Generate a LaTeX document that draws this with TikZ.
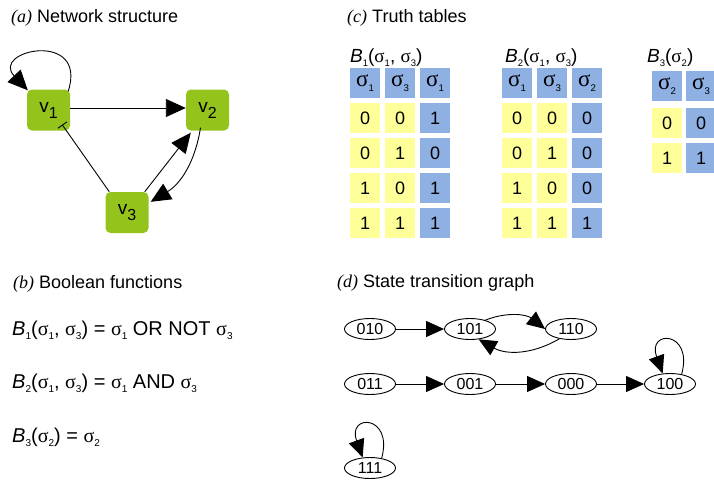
\documentclass[tikz,border=0pt]{standalone}
\usepackage{fontspec}
\usepackage{graphicx}
\setmainfont{Liberation Sans}
\newfontfamily\serifgr{Liberation Serif}
\usetikzlibrary{arrows.meta,shapes.geometric}
\definecolor{boxgreen}{RGB}{148,196,28}
\definecolor{cellblue}{RGB}{142,176,226}
\definecolor{cellyellow}{RGB}{255,255,153}
\newcommand\lowsub[2]{\raisebox{-0.22em}{\scalebox{#1}{#2}}}
\newcommand\sig[1]{{\serifgr σ}\lowsub{0.5}{#1}}
\newcommand\hsig[1]{{\serifgr σ}\lowsub{0.42}{#1}}
\newcommand\panel[1]{{\serifgr\itshape (#1)}}
\begin{document}
\begin{tikzpicture}[x=1pt,y=-1pt,
  title/.style={anchor=base west, inner sep=0pt, font=\fontsize{18}{20}\selectfont},
  eqn/.style={anchor=base west, inner sep=0pt, font=\fontsize{20}{22}\selectfont},
  tlabel/.style={anchor=base west, inner sep=0pt, font=\fontsize{19}{21}\selectfont},
  vbox/.style={fill=boxgreen, rounded corners=5pt, minimum width=43pt, minimum height=41pt, inner sep=0pt, font=\fontsize{19}{19}\selectfont},
  arr/.style={-{Triangle[length=20pt,width=18pt]}, line width=0.9pt},
  darr/.style={-{Triangle[length=18pt,width=16pt]}, line width=0.9pt},
  inh/.style={-{Bar[width=11pt,line width=0.9pt]}, line width=0.9pt},
  cellbase/.style={minimum width=30pt, minimum height=30pt, inner sep=0pt, font=\fontsize{18}{18}\selectfont},
  ycell/.style={cellbase, fill=cellyellow},
  bcell/.style={cellbase, fill=cellblue},
  hcell/.style={cellbase, fill=cellblue, font=\fontsize{23}{23}\selectfont},
  state/.style={ellipse, draw, line width=0.9pt, minimum width=51pt, minimum height=21pt, inner sep=0pt, font=\fontsize{16}{16}\selectfont}
]
\useasboundingbox (0,0) rectangle (714,479);
\clip (0,0) rectangle (714,479);

% ---------- (a) Network structure
\node[title] (ta) at (11,22) {\panel{a} Network structure};
\node[vbox] (v1) at (48.5,110) {v\raisebox{-6pt}{\fontsize{16}{16}\selectfont 1}};
\node[vbox] (v2) at (207.5,110) {v\raisebox{-6pt}{\fontsize{16}{16}\selectfont 2}};
\node[vbox] (v3) at (127,212.5) {v\raisebox{-6pt}{\fontsize{16}{16}\selectfont 3}};
\draw[arr] ([xshift=-2pt,yshift=-2pt]v1.north east) .. controls +(20,-62) and +(-38,-40) .. ([xshift=1pt,yshift=-1pt]v1.north west);
\draw[arr] ([yshift=2pt]v1.east) -- ([yshift=2pt]v2.west);
\draw[inh] ([xshift=4pt]v3.north west) -- ([xshift=-8pt,yshift=6pt]v1.south east);
\draw[arr] ([xshift=-4pt]v3.north east) -- ([xshift=5pt,yshift=-2pt]v2.south west);
\draw[arr] ([xshift=-7pt,yshift=3pt]v2.south) to[bend left=25] ([xshift=2pt,yshift=-10pt]v3.north east);

% ---------- (c) Truth tables
\node[title] (tc) at (347,22) {\panel{c} Truth tables};
\node[tlabel] (lb1) at (350,62) {\textit{B}\lowsub{0.5}{1}(\sig1, \sig3)};
\node[tlabel] (lb2) at (505,62) {\textit{B}\lowsub{0.5}{2}(\sig1, \sig3)};
\node[tlabel] (lb3) at (647,62) {\textit{B}\lowsub{0.5}{3}(\sig2)};

\node[hcell] (h1a) at (365,83) {\hsig1};
\node[hcell] (h1b) at (400,83) {\hsig3};
\node[hcell] (h1c) at (435,83) {\hsig1};
\foreach \a/\b/\c [count=\i] in {0/0/1,0/1/0,1/0/1,1/1/1} {
  \node[ycell] (ta-\i-1) at (365,83+35*\i) {\a};
  \node[ycell] (ta-\i-2) at (400,83+35*\i) {\b};
  \node[bcell] (ta-\i-3) at (435,83+35*\i) {\c};
}
\node[hcell] (h2a) at (517,83) {\hsig1};
\node[hcell] (h2b) at (552,83) {\hsig3};
\node[hcell] (h2c) at (587,83) {\hsig2};
\foreach \a/\b/\c [count=\i] in {0/0/0,0/1/0,1/0/0,1/1/1} {
  \node[ycell] (tb-\i-1) at (517,83+35*\i) {\a};
  \node[ycell] (tb-\i-2) at (552,83+35*\i) {\b};
  \node[bcell] (tb-\i-3) at (587,83+35*\i) {\c};
}
\node[hcell] (h3a) at (667,86) {\hsig2};
\node[hcell] (h3b) at (701,86) {\hsig3};
\foreach \a/\b [count=\i] in {0/0,1/1} {
  \node[ycell] (tt-\i-1) at (667,88+35*\i) {\a};
  \node[bcell] (tt-\i-2) at (701,88+35*\i) {\b};
}

% ---------- (b) Boolean functions
\node[title] (tb) at (13,288) {\panel{b} Boolean functions};
\node[eqn] (eq1) at (12,335) {\textit{B}\lowsub{0.5}{1}(\sig1, \sig3) = \sig1 OR NOT \sig3};
\node[eqn] (eq2) at (12,388) {\textit{B}\lowsub{0.5}{2}(\sig1, \sig3) = \sig1 AND \sig3};
\node[eqn] (eq3) at (12,442) {\textit{B}\lowsub{0.5}{3}(\sig2) = \sig2};

% ---------- (d) State transition graph
\node[title] (td) at (337,287) {\panel{d} State transition graph};
\node[state] (s010) at (370,329) {010};
\node[state] (s101) at (470,329) {101};
\node[state] (s110) at (571,329) {110};
\node[state] (s011) at (370,384) {011};
\node[state] (s001) at (470,384) {001};
\node[state] (s000) at (571,384) {000};
\node[state] (s100) at (670,384) {100};
\node[state] (s111) at (370,468) {111};
\draw[darr] (s010) -- (s101);
\draw[darr] (s101.30) to[bend left=30] (s110.west);
\draw[darr] (s110.220) to[bend left=30] (s101.310);
\draw[darr] (s011) -- (s001);
\draw[darr] (s001) -- (s000);
\draw[darr] (s000) -- (s100);
\draw[darr] (s100.40) .. controls +(12,-44) and +(-16,-44) .. (s100.125);
\draw[darr] (s111.40) .. controls +(12,-44) and +(-16,-44) .. (s111.125);
\end{tikzpicture}
\end{document}
